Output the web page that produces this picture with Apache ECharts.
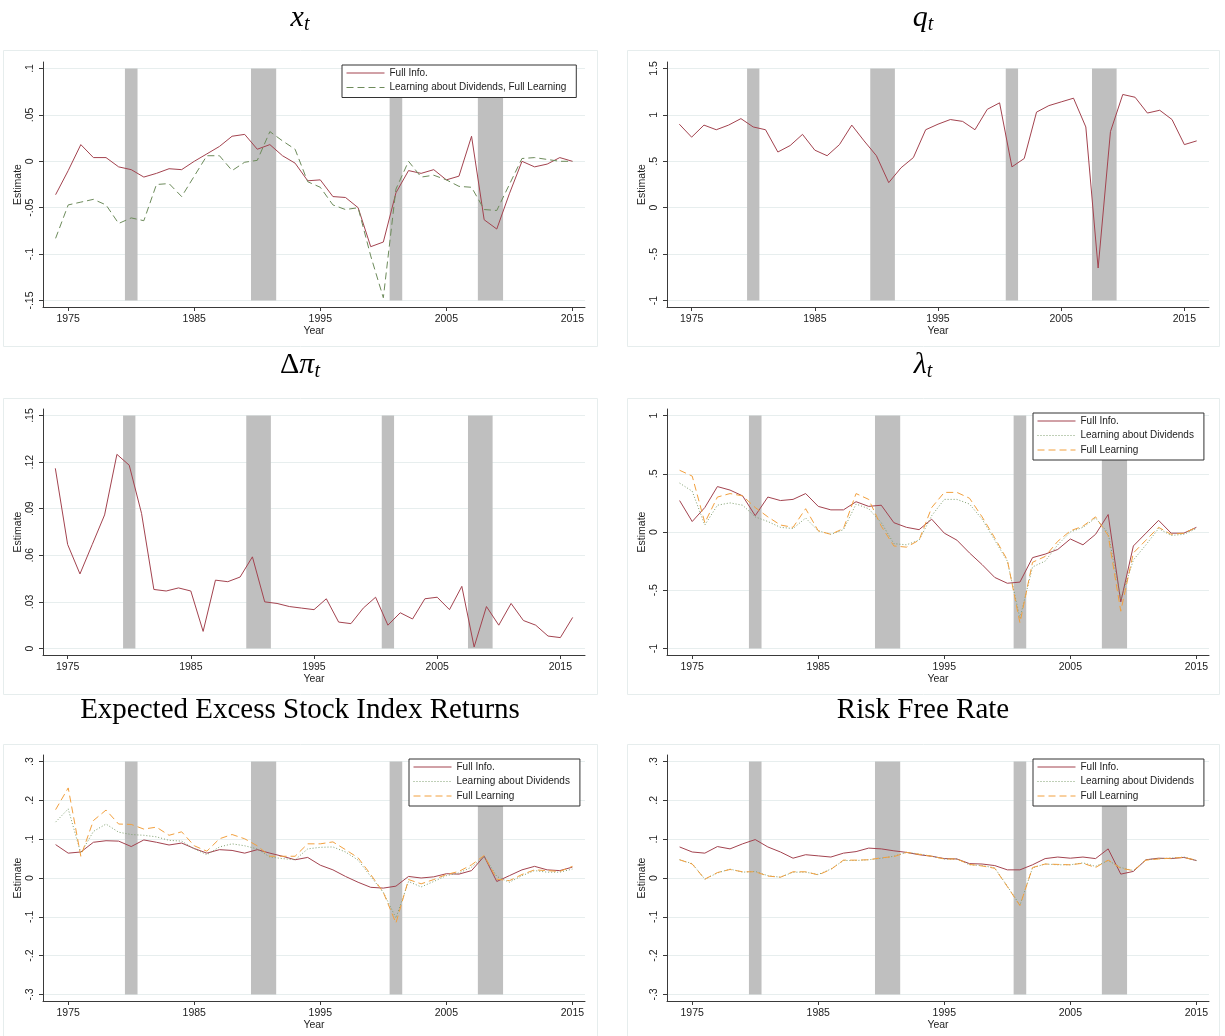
<!DOCTYPE html>
<html>
<head>
<meta charset="utf-8">
<script src="https://cdn.jsdelivr.net/npm/echarts@6/dist/echarts.min.js"></script>
<style>
  html, body { margin: 0; padding: 0; background: #fff; }
  #chart { width: 1225px; height: 1036px; }
</style>
</head>
<body>
<div id="chart"></div>
<script>
// ---- data ----
const years74to15 = [1974, 1975, 1976, 1977, 1978, 1979, 1980, 1981, 1982, 1983, 1984, 1985, 1986, 1987,
  1988, 1989, 1990, 1991, 1992, 1993, 1994, 1995, 1996, 1997, 1998, 1999, 2000, 2001, 2002, 2003, 2004,
  2005, 2006, 2007, 2008, 2009, 2010, 2011, 2012, 2013, 2014, 2015];
const years74to16 = [1974, 1975, 1976, 1977, 1978, 1979, 1980, 1981, 1982, 1983, 1984, 1985, 1986, 1987,
  1988, 1989, 1990, 1991, 1992, 1993, 1994, 1995, 1996, 1997, 1998, 1999, 2000, 2001, 2002, 2003, 2004,
  2005, 2006, 2007, 2008, 2009, 2010, 2011, 2012, 2013, 2014, 2015, 2016];
const yearTicks = [1975, 1985, 1995, 2005, 2015];

// recessions (shaded)
const recStart = [1979.5, 1989.5, 2000.5, 2007.5];
const recEnd = [1980.5, 1991.5, 2001.5, 2009.5];

// x_t
const xFull = [-0.036, -0.010, 0.018, 0.004, 0.004, -0.006, -0.009, -0.017, -0.013, -0.008,
  -0.009, 0.000, 0.008, 0.016, 0.027, 0.029, 0.013, 0.018, 0.006, -0.002,
  -0.021, -0.020, -0.038, -0.039, -0.050, -0.092, -0.087, -0.034, -0.010, -0.013,
  -0.009, -0.020, -0.016, 0.027, -0.063, -0.073, -0.035, 0.000, -0.006, -0.003,
  0.004, 0.000];
const xLearn = [-0.083, -0.047, -0.044, -0.041, -0.047, -0.067, -0.061, -0.064, -0.025, -0.024,
  -0.038, -0.016, 0.006, 0.006, -0.010, -0.001, 0.001, 0.032, 0.022, 0.013,
  -0.022, -0.028, -0.047, -0.052, -0.050, -0.102, -0.147, -0.030, 0.000, -0.017,
  -0.015, -0.020, -0.027, -0.028, -0.052, -0.053, -0.025, 0.003, 0.004, 0.002,
  0.000, 0.000];
const xTicks = [-0.15, -0.1, -0.05, 0, 0.05, 0.1];

// q_t
const qFull = [0.90, 0.76, 0.89, 0.84, 0.89, 0.96, 0.87, 0.84, 0.60, 0.67,
  0.79, 0.62, 0.56, 0.68, 0.89, 0.72, 0.56, 0.27, 0.43, 0.54,
  0.84, 0.90, 0.95, 0.93, 0.84, 1.06, 1.13, 0.44, 0.53, 1.03,
  1.10, 1.14, 1.18, 0.87, -0.65, 0.82, 1.22, 1.19, 1.02, 1.05,
  0.95, 0.68, 0.72];
const qTicks = [-1, -0.5, 0, 0.5, 1, 1.5];

// delta pi_t
const dpiFull = [0.116, 0.067, 0.048, 0.067, 0.086, 0.125, 0.118, 0.087, 0.038, 0.037,
  0.039, 0.037, 0.011, 0.044, 0.043, 0.046, 0.059, 0.030, 0.029, 0.027,
  0.026, 0.025, 0.032, 0.017, 0.016, 0.026, 0.033, 0.015, 0.023, 0.019,
  0.032, 0.033, 0.025, 0.040, 0.001, 0.027, 0.015, 0.029, 0.018, 0.015,
  0.008, 0.007, 0.020];
const dpiTicks = [0, 0.03, 0.06, 0.09, 0.12, 0.15];

// lambda_t
const lamFull = [0.27, 0.09, 0.21, 0.39, 0.36, 0.31, 0.14, 0.30, 0.27, 0.28,
  0.33, 0.22, 0.19, 0.19, 0.26, 0.22, 0.23, 0.08, 0.04, 0.02,
  0.11, -0.01, -0.07, -0.18, -0.28, -0.39, -0.44, -0.43, -0.22, -0.19,
  -0.15, -0.06, -0.11, -0.02, 0.15, -0.60, -0.12, -0.01, 0.10, -0.01,
  -0.01, 0.04];
const lamDiv = [0.42, 0.35, 0.06, 0.23, 0.25, 0.23, 0.13, 0.09, 0.04, 0.03,
  0.12, 0.01, -0.02, 0.02, 0.24, 0.20, 0.08, -0.10, -0.11, -0.07,
  0.14, 0.28, 0.28, 0.24, 0.11, -0.07, -0.25, -0.74, -0.30, -0.25,
  -0.11, 0.00, 0.04, 0.12, -0.01, -0.58, -0.24, -0.11, 0.03, -0.03,
  -0.02, 0.03];
const lamLearn = [0.53, 0.48, 0.08, 0.30, 0.33, 0.31, 0.21, 0.13, 0.06, 0.04,
  0.20, 0.01, -0.02, 0.03, 0.33, 0.28, 0.05, -0.12, -0.13, -0.07,
  0.21, 0.34, 0.34, 0.29, 0.13, -0.05, -0.24, -0.78, -0.26, -0.21,
  -0.08, 0.01, 0.05, 0.13, -0.03, -0.68, -0.18, -0.07, 0.04, -0.02,
  -0.01, 0.04];
const lamTicks = [-1, -0.5, 0, 0.5, 1];

// expected excess stock index returns
const exFull = [0.086, 0.064, 0.067, 0.092, 0.096, 0.095, 0.081, 0.098, 0.092, 0.085,
  0.090, 0.076, 0.064, 0.073, 0.071, 0.064, 0.073, 0.064, 0.056, 0.047,
  0.053, 0.033, 0.021, 0.004, -0.011, -0.024, -0.026, -0.021, 0.004, 0.000,
  0.003, 0.011, 0.010, 0.019, 0.056, -0.009, 0.006, 0.021, 0.030, 0.021,
  0.019, 0.028];
const exDiv = [0.144, 0.178, 0.064, 0.120, 0.139, 0.118, 0.112, 0.110, 0.106, 0.097,
  0.095, 0.075, 0.060, 0.080, 0.088, 0.083, 0.075, 0.054, 0.050, 0.047,
  0.075, 0.079, 0.080, 0.067, 0.046, 0.004, -0.037, -0.103, -0.009, -0.023,
  -0.009, 0.006, 0.013, 0.028, 0.056, 0.004, -0.011, 0.006, 0.019, 0.015,
  0.015, 0.023];
const exLearn = [0.176, 0.232, 0.056, 0.148, 0.175, 0.139, 0.138, 0.126, 0.131, 0.110,
  0.119, 0.083, 0.069, 0.101, 0.112, 0.101, 0.083, 0.056, 0.056, 0.056,
  0.088, 0.088, 0.093, 0.073, 0.052, 0.009, -0.037, -0.116, -0.004, -0.015,
  -0.004, 0.009, 0.017, 0.034, 0.058, -0.003, -0.007, 0.009, 0.021, 0.019,
  0.017, 0.030];

// risk free rate
const rfFull = [0.080, 0.067, 0.064, 0.081, 0.075, 0.088, 0.099, 0.080, 0.067, 0.051,
  0.060, 0.057, 0.054, 0.064, 0.068, 0.077, 0.075, 0.070, 0.066, 0.060,
  0.056, 0.050, 0.049, 0.037, 0.036, 0.032, 0.021, 0.021, 0.034, 0.050,
  0.054, 0.051, 0.054, 0.050, 0.075, 0.010, 0.017, 0.047, 0.051, 0.050,
  0.053, 0.045];
const rfDiv = [0.047, 0.037, -0.003, 0.013, 0.023, 0.015, 0.017, 0.006, 0.002, 0.015,
  0.015, 0.009, 0.023, 0.045, 0.045, 0.047, 0.051, 0.056, 0.066, 0.062,
  0.056, 0.049, 0.049, 0.034, 0.032, 0.026, -0.021, -0.070, 0.026, 0.036,
  0.034, 0.034, 0.039, 0.030, 0.045, 0.027, 0.019, 0.047, 0.050, 0.051,
  0.054, 0.045];
const rfLearn = [0.047, 0.036, -0.003, 0.014, 0.022, 0.016, 0.016, 0.005, 0.002, 0.016,
  0.016, 0.008, 0.022, 0.046, 0.046, 0.047, 0.052, 0.055, 0.066, 0.061,
  0.056, 0.049, 0.049, 0.035, 0.031, 0.025, -0.022, -0.071, 0.027, 0.036,
  0.035, 0.034, 0.038, 0.027, 0.046, 0.025, 0.019, 0.046, 0.049, 0.051,
  0.053, 0.046];
const retTicks = [-0.3, -0.2, -0.1, 0, 0.1, 0.2, 0.3];

// ---- styling ----
const C_FULL = '#a3434f';
const C_LEARN = '#6d8b5b';
const C_DIV = '#7e9e6e';
const C_FL = '#f2a03e';
const AXIS = '#3a3a3a';
const GRIDC = '#e7eeee';
const FONT = 'Liberation Sans, Arial, sans-serif';
const SERIF = 'Liberation Serif, Times New Roman, serif';

const NAME_FULL = 'Full Info.';
const NAME_DIV = 'Learning about Dividends';
const NAME_FL = 'Full Learning';
const NAME_BOTH = 'Learning about Dividends, Full Learning';

const fmtY = v => String(Math.round(v * 1000) / 1000).replace(/^(-?)0\./, '$1.');
const pairs = (xs, ys) => ys.map((v, i) => [xs[i], v]);

// plot boxes in pixels: [left, top, width, height]; the value range runs a few px past the end ticks
const panels = [
  { box: [43, 62, 542, 245], xMax: 2016, ticks: xTicks, years: years74to15,
    lines: [[NAME_FULL, xFull, C_FULL, 'solid'], [NAME_BOTH, xLearn, C_LEARN, [7, 4]]] },
  { box: [667, 62, 542, 245], xMax: 2017, ticks: qTicks, years: years74to16,
    lines: [['q', qFull, C_FULL, 'solid']] },
  { box: [43, 409, 542, 246], xMax: 2017, ticks: dpiTicks, years: years74to16,
    lines: [['dpi', dpiFull, C_FULL, 'solid']] },
  { box: [667, 409, 542, 246], xMax: 2016, ticks: lamTicks, years: years74to15,
    lines: [[NAME_FULL, lamFull, C_FULL, 'solid'], [NAME_DIV, lamDiv, C_DIV, [1, 2]], [NAME_FL, lamLearn, C_FL, [7, 4]]] },
  { box: [43, 755, 542, 246], xMax: 2016, ticks: retTicks, years: years74to15,
    lines: [[NAME_FULL, exFull, C_FULL, 'solid'], [NAME_DIV, exDiv, C_DIV, [1, 2]], [NAME_FL, exLearn, C_FL, [7, 4]]] },
  { box: [667, 755, 542, 246], xMax: 2016, ticks: retTicks, years: years74to15,
    lines: [[NAME_FULL, rfFull, C_FULL, 'solid'], [NAME_DIV, rfDiv, C_DIV, [1, 2]], [NAME_FL, rfLearn, C_FL, [7, 4]]] }
];

const frames = [[3, 50, 594, 296], [627, 50, 592, 296], [3, 398, 594, 296], [627, 398, 592, 296],
  [3, 744, 594, 292], [627, 744, 592, 292]];

const grid = [], xAxis = [], yAxis = [], series = [];
panels.forEach((p, i) => {
  const [l, t, w, h] = p.box;
  grid.push({ left: l, top: t, width: w, height: h, containLabel: false });
  const lo = p.ticks[0], hi = p.ticks[p.ticks.length - 1];
  const pad = (hi - lo) * 0.028;
  xAxis.push({
    gridIndex: i, type: 'value', min: 1973, max: p.xMax,
    axisLine: { show: true, onZero: false, lineStyle: { color: AXIS, width: 1 } },
    axisTick: { show: true, customValues: yearTicks, length: 4, lineStyle: { color: AXIS } },
    axisLabel: { customValues: yearTicks, formatter: v => String(v), color: '#222',
      fontSize: 10.5, fontFamily: FONT, margin: 7 },
    splitLine: { show: false },
    name: 'Year', nameLocation: 'middle', nameGap: 17,
    nameTextStyle: { color: '#222', fontSize: 10.5, fontFamily: FONT }
  });
  yAxis.push({
    gridIndex: i, type: 'value', min: lo - pad, max: hi + pad,
    axisLine: { show: true, onZero: false, lineStyle: { color: AXIS, width: 1 } },
    axisTick: { show: true, customValues: p.ticks, length: 4, lineStyle: { color: AXIS } },
    axisLabel: { customValues: p.ticks, rotate: 90, formatter: fmtY, color: '#222',
      fontSize: 10.5, fontFamily: FONT, margin: 7 },
    splitLine: { show: true, lineStyle: { color: GRIDC, width: 1 } },
    name: 'Estimate', nameLocation: 'middle', nameGap: 18, nameRotate: 90,
    nameTextStyle: { color: '#222', fontSize: 10.5, fontFamily: FONT }
  });
  p.lines.forEach(([name, vals, color, dash], k) => {
    const s = {
      type: 'line', name, xAxisIndex: i, yAxisIndex: i,
      data: pairs(p.years, vals),
      symbol: 'none', showSymbol: false, silent: true,
      lineStyle: { color, width: 1, type: dash },
      itemStyle: { color },
      z: 3
    };
    if (k === 0) {
      s.markArea = {
        silent: true,
        itemStyle: { color: '#bfbfbf', opacity: 1 },
        data: recStart.map((r, j) => [{ coord: [r, hi] }, { coord: [recEnd[j], lo] }])
      };
    }
    series.push(s);
  });
});

const legendBase = {
  orient: 'vertical', itemWidth: 38, itemHeight: 10, itemGap: 4.5,
  padding: [3, 10, 5, 4], borderColor: '#333', borderWidth: 1, backgroundColor: '#fff',
  itemStyle: { opacity: 0 }, lineStyle: { width: 1 }, selectedMode: false,
  textStyle: { fontSize: 10, fontFamily: FONT, color: '#222' }
};
const legend = [
  Object.assign({ left: 342, top: 65, data: [NAME_FULL, NAME_BOTH] }, legendBase),
  Object.assign({ left: 1033, top: 413, data: [NAME_FULL, NAME_DIV, NAME_FL] }, legendBase),
  Object.assign({ left: 409, top: 759, data: [NAME_FULL, NAME_DIV, NAME_FL] }, legendBase),
  Object.assign({ left: 1033, top: 759, data: [NAME_FULL, NAME_DIV, NAME_FL] }, legendBase)
];

// math-style panel titles
const rich = {
  m: { fontFamily: SERIF, fontStyle: 'italic', fontSize: 30, lineHeight: 30, verticalAlign: 'top', fill: '#000' },
  u: { fontFamily: SERIF, fontSize: 30, lineHeight: 30, verticalAlign: 'top', fill: '#000' },
  s: { fontFamily: SERIF, fontStyle: 'italic', fontSize: 20, lineHeight: 44, fill: '#000' }
};
const mathTitle = (x, y, text) => ({
  type: 'text', x, y, z: 10,
  style: { text, rich, align: 'center', verticalAlign: 'top' }
});
const plainTitle = (x, y, text) => ({
  type: 'text', x, y, z: 10,
  style: { text, font: '29px ' + SERIF, fill: '#000', align: 'center', verticalAlign: 'middle' }
});

const graphic = frames.map(([x, y, w, h]) => ({
  type: 'rect', z: -1, silent: true,
  shape: { x: x + 0.5, y: y + 0.5, width: w, height: h },
  style: { fill: 'none', stroke: '#e6eded', lineWidth: 1 }
})).concat([
  mathTitle(300, 3, '{m|x}{s|t}'),
  mathTitle(923, 3, '{m|q}{s|t}'),
  mathTitle(300, 350, '{u|Δ}{m|π}{s|t}'),
  mathTitle(923, 350, '{m|λ}{s|t}'),
  plainTitle(300, 710, 'Expected Excess Stock Index Returns'),
  plainTitle(923, 710, 'Risk Free Rate')
]);

const myChart = echarts.init(document.getElementById('chart'));
myChart.setOption({
  animation: false,
  backgroundColor: '#fff',
  grid, xAxis, yAxis, series, legend, graphic
});
</script>
</body>
</html>
